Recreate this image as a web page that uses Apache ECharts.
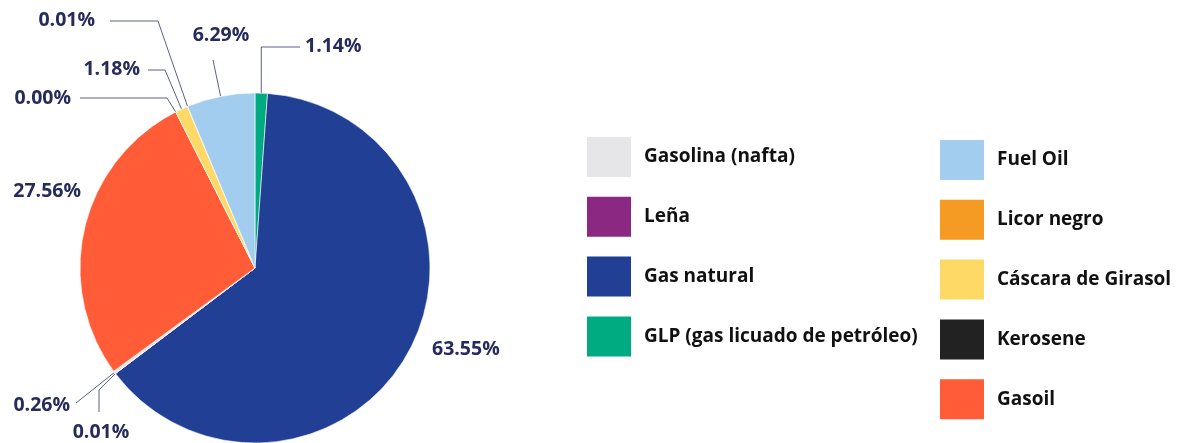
<!DOCTYPE html>
<html>
<head>
<meta charset="utf-8">
<script src="https://cdn.jsdelivr.net/npm/echarts@6/dist/echarts.min.js"></script>
<style>
  html, body { margin: 0; padding: 0; background: #fff; }
  #chart { width: 1184px; height: 443px; }
</style>
</head>
<body>
<div id="chart"></div>
<script>
// datos (orden del pie, sentido horario desde arriba)
var categories = ['GLP (gas licuado de petróleo)', 'Gas natural', 'Leña', 'Gasolina (nafta)', 'Gasoil', 'Kerosene', 'Cáscara de Girasol', 'Licor negro', 'Fuel Oil'];
var shares = [1.14, 63.55, 0.01, 0.26, 27.56, 0.00, 1.18, 0.01, 6.29];
var colors = ['#00ab82', '#213f94', '#8a2882', '#e6e6e8', '#ff5c37', '#222222', '#fed966', '#f59a22', '#a3cdee'];

// leyenda en dos columnas
var legendLeft = ['Gasolina (nafta)', 'Leña', 'Gas natural', 'GLP (gas licuado de petróleo)'];
var legendRight = ['Fuel Oil', 'Licor negro', 'Cáscara de Girasol', 'Kerosene', 'Gasoil'];

// posiciones de las etiquetas: [x texto, y texto, align, codo x, codo y, fin x]
var labelSpots = [
    [305, 46, 'left', null, 47, 300],
    [432, 349, 'left'],
    [101, 432, 'center', 99, 390, 99, 412],
    [70, 405, 'right', null, null, 76, 403],
    [81, 191, 'right'],
    [71, 98, 'right', 167, 98, 80],
    [140, 69, 'right', 165, 70, 148],
    [95, 20, 'right', 158, 21, 110],
    [221, 35, 'center', 213, 60]
];

var chart = echarts.init(document.getElementById('chart'));

var pieData = categories.map(function (name, i) {
    var item = { name: name, value: shares[i], itemStyle: { color: colors[i] } };
    if (labelSpots[i].length < 4) item.labelLine = { show: false };
    return item;
});

function legendBlock(names, left, top) {
    return {
        orient: 'vertical',
        left: left,
        top: top,
        padding: 0,
        data: names,
        itemWidth: 44,
        itemHeight: 40,
        itemGap: 19.8,
        icon: 'rect',
        selectedMode: false,
        itemStyle: { borderWidth: 0 },
        textStyle: {
            fontFamily: 'Open Sans',
            fontWeight: 700,
            fontSize: 19,
            color: '#111111',
            padding: [0, 0, 0, 8]
        }
    };
}

var option = {
    animation: false,
    legend: [legendBlock(legendLeft, 587, 137), legendBlock(legendRight, 940, 140)],
    series: [{
        type: 'pie',
        center: [255, 268],
        radius: 175,
        startAngle: 90,
        clockwise: true,
        minAngle: 0,
        avoidLabelOverlap: false,
        itemStyle: { borderColor: '#ffffff', borderWidth: 0.6 },
        label: {
            show: true,
            position: 'outside',
            formatter: function (p) { return p.value.toFixed(2) + '%'; },
            fontFamily: 'Open Sans',
            fontWeight: 700,
            fontSize: 19.5,
            color: '#272b5c'
        },
        labelLine: {
            show: true,
            length: 10,
            length2: 10,
            lineStyle: { color: '#5b6088', width: 1 }
        },
        labelLayout: function (params) {
            var s = labelSpots[params.dataIndex];
            var out = { x: s[0], y: s[1], align: s[2], verticalAlign: 'middle' };
            if (s.length >= 4 && params.labelLinePoints) {
                var p0 = params.labelLinePoints[0];
                var pts = [[p0[0], p0[1]]];
                var ex = s[3] == null ? p0[0] : s[3];
                if (s[4] != null) pts.push([ex, s[4]]);
                if (s.length === 6) pts.push([s[5], s[4]]);
                if (s.length === 7) pts.push([s[5], s[6]]);
                out.labelLinePoints = pts;
            }
            return out;
        },
        data: pieData
    }]
};

chart.setOption(option);
</script>
</body>
</html>
